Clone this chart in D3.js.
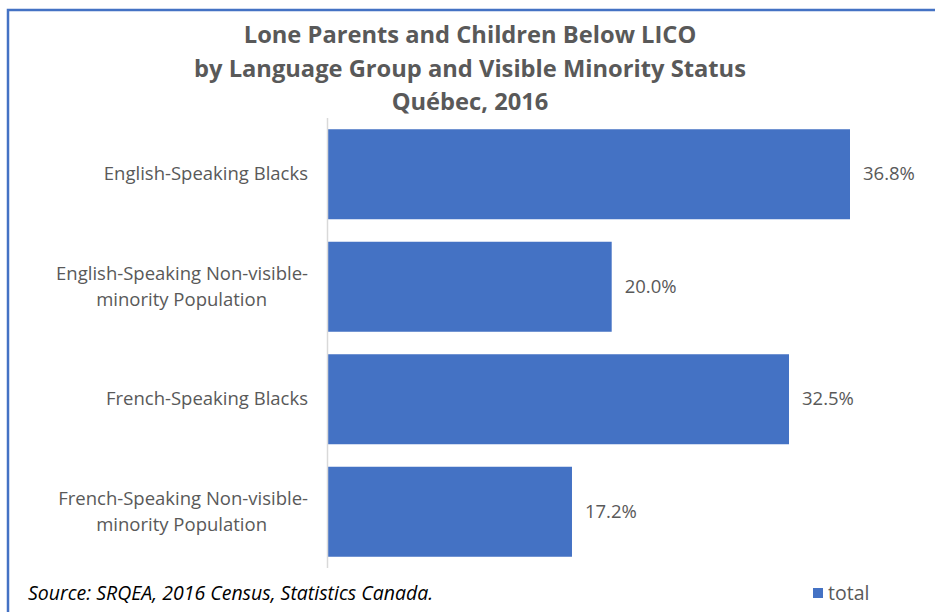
<!DOCTYPE html>
<html><head><meta charset="utf-8">
<script src="https://cdn.jsdelivr.net/npm/d3@7"></script>
<style>
html,body{margin:0;padding:0;background:#fff;}
svg{display:block;}
text{font-family:"Open Sans",Lato,sans-serif;}
</style></head>
<body>
<svg id="c" width="935" height="612"></svg>
<script>
const categories = [
  ["English-Speaking Blacks"],
  ["English-Speaking Non-visible-", "minority Population"],
  ["French-Speaking Blacks"],
  ["French-Speaking Non-visible-", "minority Population"]
];
const values = [36.8, 20.0, 32.5, 17.2];
const titleLines = ["Lone Parents and Children Below LICO", "by Language Group and Visible Minority Status", "Québec, 2016"];
const sourceText = "Source: SRQEA, 2016 Census, Statistics Canada.";
const seriesName = "total";

const svg = d3.select("#c");
const blue = "#4472C4", grey = "#595959";

// frame
svg.append("path").attr("d","M8,612 V10 H935").attr("fill","none").attr("stroke",blue).attr("stroke-width",2.5);

// title
svg.append("g").selectAll("text").data(titleLines).join("text")
  .attr("x",470).attr("y",(d,i)=>43+i*33.5)
  .attr("text-anchor","middle").attr("font-size",23.7).attr("font-weight","bold")
  .attr("fill",grey).text(d=>d);

const keys = categories.map(c=>c.join(" "));
const y = d3.scaleBand().domain(keys).range([118,568]).paddingInner(0.2).paddingOuter(0.1);
const x = d3.scaleLinear().domain([0,36.8]).range([328,850]);

svg.append("g").selectAll("rect").data(values).join("rect")
  .attr("x",x(0)).attr("y",(d,i)=>y(keys[i])).attr("width",d=>x(d)-x(0))
  .attr("height",y.bandwidth()).attr("fill",blue);

// axis line
svg.append("line").attr("x1",327.5).attr("x2",327.5).attr("y1",118).attr("y2",568)
  .attr("stroke","#d9d9d9").attr("stroke-width",1.5);

// category labels
const lab = svg.append("g").selectAll("text").data(categories).join("text")
  .attr("font-size",18.5).attr("fill",grey).attr("text-anchor","end");
lab.each(function(c,i){
  const t = d3.select(this);
  const cy = y(keys[i]) + y.bandwidth()/2;
  if(c.length===1){
    t.append("tspan").attr("x",308).attr("y",cy+6).text(c[0]);
  } else {
    t.append("tspan").attr("x",308).attr("y",cy-7).text(c[0]);
    t.append("tspan").attr("x",267).attr("y",cy+19).text(c[1]);
  }
});

// value labels
svg.append("g").selectAll("text").data(values).join("text")
  .attr("x",d=>x(d)+13).attr("y",(d,i)=>y(keys[i])+y.bandwidth()/2+6)
  .attr("font-size",18.5).attr("fill",grey).text(d=>d.toFixed(1)+"%");

// source
svg.append("text").attr("x",28).attr("y",600).attr("font-size",19.5).attr("font-style","italic")
  .attr("fill","#000").text(sourceText);

// legend
svg.append("rect").attr("x",813).attr("y",588).attr("width",10).attr("height",10).attr("fill",blue);
svg.append("text").attr("x",828).attr("y",600).attr("font-size",19.5).attr("fill",grey).text(seriesName);
</script>
</body></html>
